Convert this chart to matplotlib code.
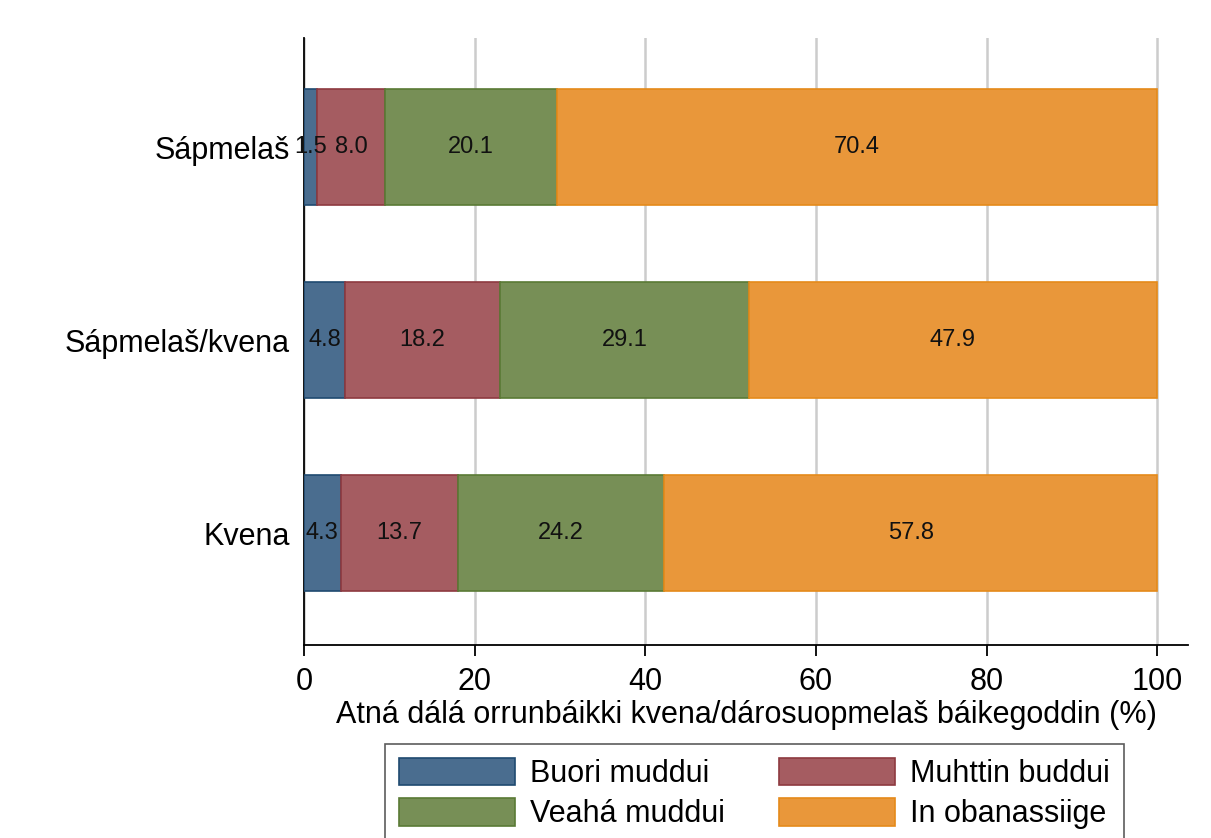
import matplotlib
matplotlib.use('Agg')
import matplotlib.pyplot as plt
import numpy as np

plt.rcParams['font.family'] = ['Liberation Sans', 'DejaVu Sans']

groups = ['Kvena', 'Sápmelaš/kvena', 'Sápmelaš']
categories = ['Buori muddui', 'Muhttin buddui', 'Veahá muddui', 'In obanassiige']
buori = [4.3, 4.8, 1.5]
muhttin = [13.7, 18.2, 8.0]
veaha = [24.2, 29.1, 20.1]
in_oba = [57.8, 47.9, 70.4]
series = [buori, muhttin, veaha, in_oba]

fills = ['#4a6d8f', '#a55c61', '#778f56', '#e9973a']
edges = ['#1f4a70', '#8e3a40', '#5a7a35', '#e58a1a']

fig = plt.figure(figsize=(12.11, 8.38), dpi=100)
ax = fig.add_axes([0.251, 0.2303, 0.730, 0.7244])

y = np.arange(len(groups))
left = np.zeros(len(groups))
handles = []
for vals, cat, fc, ec in zip(series, categories, fills, edges):
    vals = np.array(vals)
    b = ax.barh(y, vals, left=left, height=0.6, color=fc, edgecolor=ec,
                linewidth=1.2, label=cat, zorder=3)
    handles.append(b)
    for yi, l, v in zip(y, left, vals):
        ax.text(l + v / 2, yi, '%.1f' % v, ha='center', va='center',
                fontsize=17, color='#111111', zorder=4)
    left = left + vals

ax.set_xlim(0, 103.6)
ax.set_ylim(-0.58, 2.565)
ax.set_xticks([0, 20, 40, 60, 80, 100])
ax.set_yticks(y)
ax.set_yticklabels(groups)
ax.grid(axis='x', color='#cccccc', linewidth=1.8, zorder=0)
ax.set_axisbelow(True)
for s in ['top', 'right']:
    ax.spines[s].set_visible(False)
ax.spines['left'].set_linewidth(1.3)
ax.spines['bottom'].set_linewidth(1.3)
ax.tick_params(axis='x', length=8, width=1.3, labelsize=22, pad=8)
ax.tick_params(axis='y', length=0, labelsize=22, pad=10)
ax.set_xlabel('Atná dálá orrunbáikki kvena/dárosuopmelaš báikegoddin (%)',
              fontsize=22, labelpad=2)

# legend fills by column, so reorder to get rows: Buori/Muhttin, Veahá/In
order = [0, 2, 1, 3]
leg = fig.legend(handles=[handles[i] for i in order],
                 labels=[categories[i] for i in order], ncol=2,
                 loc='upper center', bbox_to_anchor=(0.623, 0.112),
                 borderaxespad=0, fontsize=22, frameon=True, fancybox=False,
                 edgecolor='#333333', handlelength=3.8, handleheight=1.0,
                 columnspacing=1.75, handletextpad=0.5, borderpad=0.45,
                 labelspacing=0.3)
leg.get_frame().set_linewidth(1.2)

fig.savefig('out.png', dpi=100)
